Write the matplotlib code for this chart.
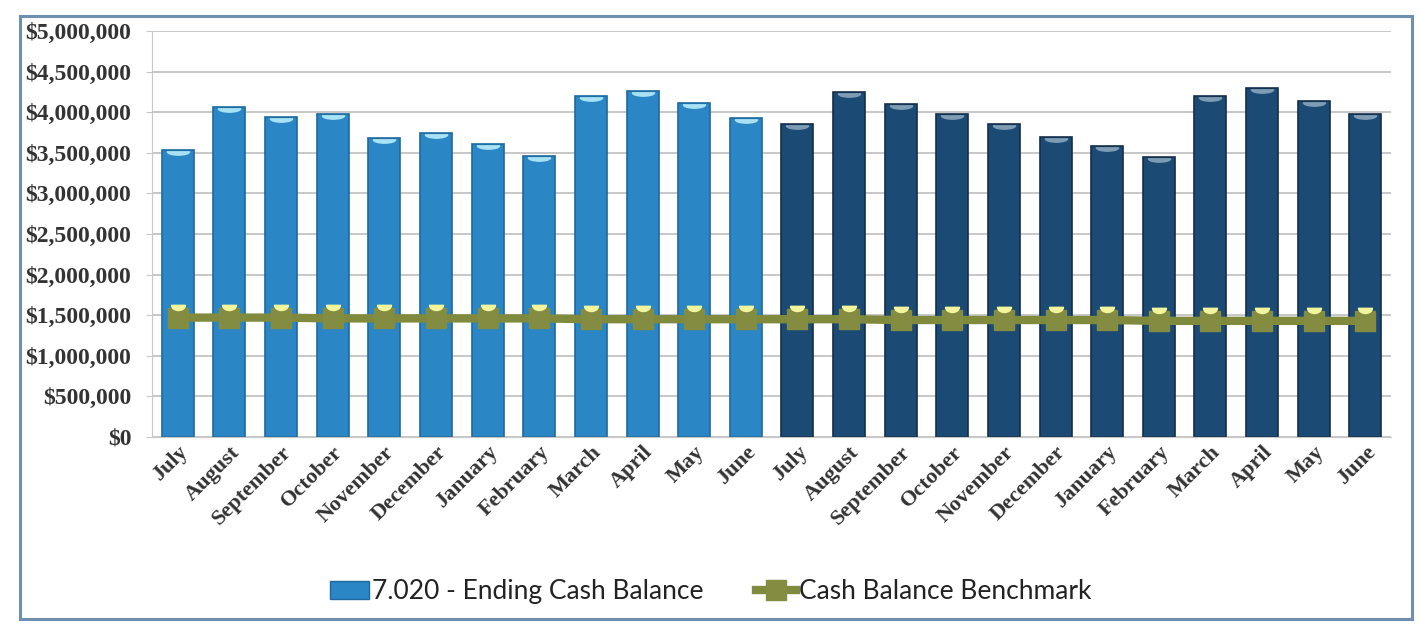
import numpy as np
import matplotlib
matplotlib.use("Agg")
import matplotlib.pyplot as plt
from matplotlib.path import Path
from matplotlib.patches import Rectangle
from matplotlib.lines import Line2D
from matplotlib.ticker import FuncFormatter

# months over two fiscal years
months = ["July", "August", "September", "October", "November", "December",
          "January", "February", "March", "April", "May", "June"]
labels = months + months

# ending cash balance (millions), first year then second year
year1 = [3.54, 4.06, 3.94, 3.98, 3.68, 3.74, 3.61, 3.46, 4.20, 4.26, 4.12, 3.93]
year2 = [3.86, 4.25, 4.10, 3.98, 3.86, 3.70, 3.59, 3.45, 4.20, 4.30, 4.14, 3.98]
# benchmark (millions)
benchmark = [1.47, 1.47, 1.47, 1.46, 1.46, 1.46, 1.46, 1.46, 1.45, 1.45, 1.45, 1.45,
             1.45, 1.45, 1.44, 1.44, 1.44, 1.44, 1.44, 1.43, 1.43, 1.43, 1.43, 1.43]

cash = np.array(year1 + year2) * 1e6
bench = np.array(benchmark) * 1e6
x = np.arange(len(labels))

light = "#2a86c4"
dark = "#1b4a74"
olive = "#7f8a3d"

fig = plt.figure(figsize=(14.21, 6.35), dpi=100)
ax = fig.add_axes([0.107, 0.312, 0.872, 0.639])

colors = [light] * 12 + [dark] * 12
edges = ["#1e6aa0"] * 12 + ["#132f4b"] * 12
ax.bar(x, cash, width=0.62, color=colors, edgecolor=edges, linewidth=1.2, zorder=2)

# little glare just under the top of each bar
glare = Path.wedge(180, 360)
glare = Path(glare.vertices * [1.0, 0.3] + [0, -0.12], glare.codes)
ax.plot(x[:12], cash[:12], ls="none", marker=glare, markersize=16,
        color="#a8e2f4", zorder=3)
ax.plot(x[12:], cash[12:], ls="none", marker=glare, markersize=16,
        color="#7f9cb5", zorder=3)

# benchmark line
ax.plot(x, bench, color=olive, lw=6, marker="s", markersize=14,
        markerfacecolor="#848c42", markeredgecolor="#848c42", zorder=4)
hl = Path.wedge(180, 360)
hl = Path(hl.vertices * [1.0, 0.75] + [0, 1.9], hl.codes)
ax.plot(x, bench, ls="none", marker=hl, markersize=19, color="#f3f59c", zorder=5)

ax.set_xlim(-0.5, len(labels) - 0.5)
ax.set_ylim(0, 5e6)
ax.set_yticks(np.arange(0, 5e6 + 1, 5e5))
ax.yaxis.set_major_formatter(FuncFormatter(lambda v, p: "${:,.0f}".format(v)))
ax.grid(axis="y", color="#bdbdbd", lw=1.2, zorder=0)
ax.set_axisbelow(True)
for s in ["top", "right"]:
    ax.spines[s].set_visible(False)
ax.spines["left"].set_color("#c8c8c8")
ax.spines["bottom"].set_color("#c8c8c8")
ax.tick_params(axis="y", length=4, color="#c8c8c8", pad=11)
ax.tick_params(axis="x", length=0, pad=4)

ax.set_xticks(x)
ax.set_xticklabels(labels, rotation=45, ha="right", rotation_mode="anchor")
for t in ax.get_yticklabels():
    t.set_fontsize(17)
for t in ax.get_xticklabels():
    t.set_fontsize(16)
for t in ax.get_yticklabels() + ax.get_xticklabels():
    t.set_fontfamily("Liberation Serif")
    t.set_fontweight("bold")
    t.set_color("#333333")

handles = [
    Rectangle((0, 0), 1, 1, facecolor=light, edgecolor="#1e6aa0"),
    Line2D([0], [0], color=olive, lw=6, marker="s", markersize=14,
           markerfacecolor="#848c42", markeredgecolor="#848c42"),
]
fig.legend(handles, ["7.020 - Ending Cash Balance", "Cash Balance Benchmark"],
           loc="center", bbox_to_anchor=(0.5, 0.068), ncol=2, frameon=False,
           prop={"family": "Lato", "size": 19}, handlelength=1.5,
           handletextpad=0.1, columnspacing=2.0, labelcolor="#222222")

# outer frame
fig.patches.append(Rectangle((0.014, 0.025), 0.98, 0.95, transform=fig.transFigure,
                             fill=False, edgecolor="#6f8fae", lw=2.2))

fig.savefig("out.png", dpi=100)
